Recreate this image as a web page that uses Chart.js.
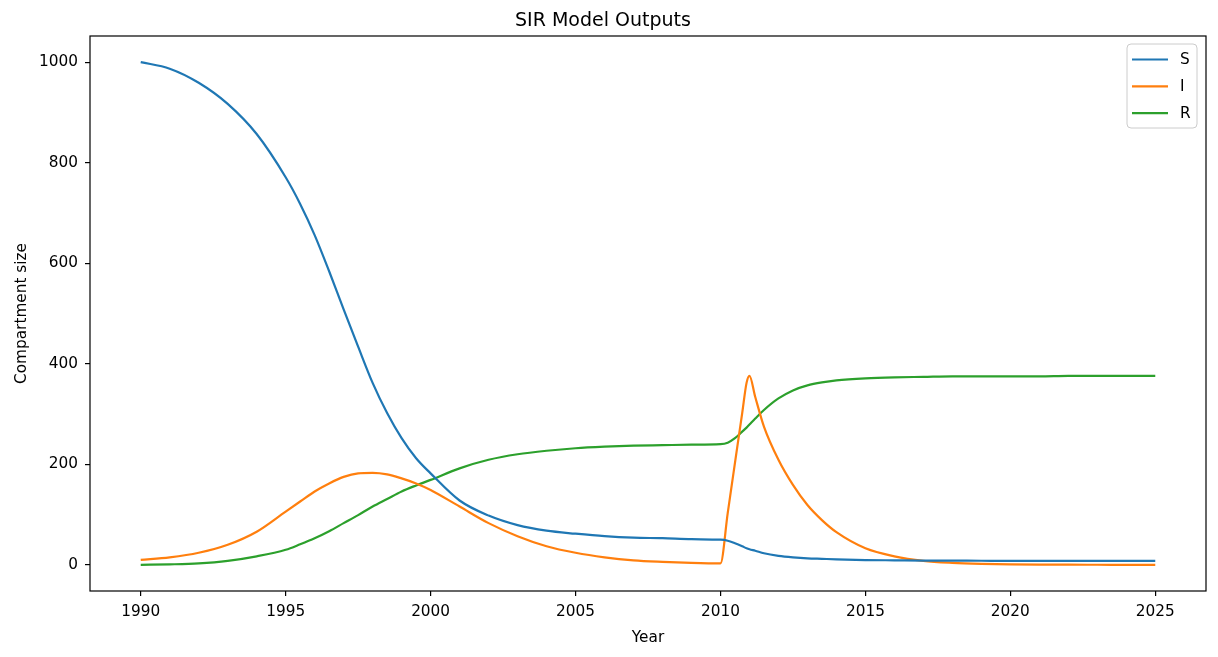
<!DOCTYPE html>
<html lang="en">
<head>
    <meta charset="UTF-8">
    <title>SIR Model Outputs</title>
    <script src="https://cdn.jsdelivr.net/npm/chart.js"></script>
    <style>
        body {
            margin: 0;
            background: #fff;
        }
        .chart-container {
            width: 1218px;
            height: 657px;
        }
    </style>
</head>
<body>
    <div class="chart-container">
        <canvas id="sirChart"></canvas>
    </div>

    <script>
        // time points (years)
        const years = [1990, 1991, 1992, 1993, 1994, 1995, 1995.5, 1996, 1996.5, 1997, 1997.5, 1998, 1998.5, 1999, 1999.5,
            2000, 2001, 2002, 2003, 2004, 2005, 2006, 2007, 2008, 2009, 2010,
            2010.25, 2010.5, 2010.75, 2010.9, 2011, 2011.2, 2011.5, 2012, 2012.5, 2013, 2013.5,
            2014, 2015, 2016, 2017, 2018, 2019, 2020, 2021, 2022, 2023, 2024, 2025];

        const susceptible = [1000, 987, 959, 917, 857, 771, 718, 656, 584, 508, 434, 362, 302, 252, 212,
            182, 128, 98, 79, 68, 62, 57, 54, 53, 51, 50,
            48, 43, 37, 33, 31, 28, 23, 18, 15, 13, 12,
            11, 9.5, 9, 8.5, 8.3, 8.2, 8, 8, 8, 8, 8, 8];

        const infected = [10, 15, 24, 40, 66, 106, 126, 146, 162, 175, 182, 183, 180, 172, 162,
            149, 116, 83, 57, 37, 24, 15, 9, 6, 4, 3,
            103, 203, 302, 362, 376, 334, 275, 209, 159, 119, 89,
            65, 33, 17, 8, 4, 2, 1, 0.5, 0.3, 0.2, 0.1, 0];

        const recovered = [0, 1, 3, 8, 17, 30, 41, 53, 67, 83, 99, 116, 131, 146, 158,
            169, 192, 209, 220, 227, 232, 235, 237, 238, 239, 240,
            243, 252, 265, 273, 279, 291, 308, 331, 347, 357, 363,
            367, 371, 373, 374, 375, 375, 375, 375, 376, 376, 376, 376];

        const xTicks = [1990, 1995, 2000, 2005, 2010, 2015, 2020, 2025];
        const yTicks = [0, 200, 400, 600, 800, 1000];

        const FONT = "'DejaVu Sans', sans-serif";
        const TICK_SIZE = 15.3;

        function toPoints(values) {
            return years.map((yr, i) => ({ x: yr, y: values[i] }));
        }

        // white background, spines on all four sides, legend box inside the plot
        const framePlugin = {
            id: 'frame',
            beforeDraw(chart) {
                const c = chart.ctx;
                c.save();
                c.fillStyle = '#fff';
                c.fillRect(0, 0, chart.width, chart.height);
                c.restore();
            },
            afterDraw(chart) {
                const c = chart.ctx;
                const a = chart.chartArea;
                c.save();
                c.strokeStyle = '#000';
                c.lineWidth = 1.2;
                c.strokeRect(a.left, a.top, a.right - a.left, a.bottom - a.top);

                // legend
                const bx = 1127, by = 44, bw = 70, bh = 84, r = 4;
                c.beginPath();
                c.moveTo(bx + r, by);
                c.arcTo(bx + bw, by, bx + bw, by + bh, r);
                c.arcTo(bx + bw, by + bh, bx, by + bh, r);
                c.arcTo(bx, by + bh, bx, by, r);
                c.arcTo(bx, by, bx + bw, by, r);
                c.closePath();
                c.fillStyle = 'rgba(255,255,255,0.8)';
                c.fill();
                c.strokeStyle = '#cccccc';
                c.lineWidth = 1;
                c.stroke();

                c.font = TICK_SIZE + 'px ' + FONT;
                c.textBaseline = 'middle';
                c.textAlign = 'left';
                chart.data.datasets.forEach((ds, i) => {
                    const ly = 59.5 + i * 26.8;
                    c.strokeStyle = ds.borderColor;
                    c.lineWidth = 2.2;
                    c.beginPath();
                    c.moveTo(1132, ly);
                    c.lineTo(1168, ly);
                    c.stroke();
                    c.fillStyle = '#000';
                    c.fillText(ds.label, 1180, ly + 1);
                });
                c.restore();
            }
        };

        const ctx = document.getElementById('sirChart').getContext('2d');

        const sirChart = new Chart(ctx, {
            type: 'line',
            data: {
                datasets: [
                    { label: 'S', data: toPoints(susceptible), borderColor: '#1f77b4' },
                    { label: 'I', data: toPoints(infected), borderColor: '#ff7f0e' },
                    { label: 'R', data: toPoints(recovered), borderColor: '#2ca02c' }
                ]
            },
            options: {
                responsive: true,
                maintainAspectRatio: false,
                animation: false,
                devicePixelRatio: 1,
                layout: { padding: { top: 0, right: 12, bottom: 0, left: 0 } },
                elements: {
                    point: { radius: 0 },
                    line: { borderWidth: 2.2, cubicInterpolationMode: 'monotone', fill: false }
                },
                plugins: {
                    legend: { display: false },
                    tooltip: { enabled: false },
                    title: {
                        display: true,
                        text: 'SIR Model Outputs',
                        color: '#000',
                        font: { family: FONT, size: 19, weight: 'normal', lineHeight: 1.2 },
                        padding: { top: 9.6, bottom: 3.6 }
                    }
                },
                scales: {
                    x: {
                        type: 'linear',
                        min: 1988.25,
                        max: 2026.75,
                        afterFit(scale) { scale.height = 66; },
                        afterBuildTicks(scale) { scale.ticks = xTicks.map(v => ({ value: v })); },
                        grid: { drawOnChartArea: false, drawTicks: true, tickLength: 5, color: '#000', lineWidth: 1.2 },
                        border: { display: false },
                        ticks: {
                            color: '#000',
                            padding: 7,
                            maxRotation: 0,
                            font: { family: FONT, size: TICK_SIZE },
                            callback: v => String(v)
                        },
                        title: {
                            display: true,
                            text: 'Year',
                            color: '#000',
                            font: { family: FONT, size: TICK_SIZE },
                            padding: { top: 0, bottom: 10 }
                        }
                    },
                    y: {
                        min: -52,
                        max: 1052,
                        afterFit(scale) { scale.width = 90; },
                        afterBuildTicks(scale) { scale.ticks = yTicks.map(v => ({ value: v })); },
                        grid: { drawOnChartArea: false, drawTicks: true, tickLength: 5, color: '#000', lineWidth: 1.2 },
                        border: { display: false },
                        ticks: {
                            color: '#000',
                            padding: 7,
                            font: { family: FONT, size: TICK_SIZE },
                            callback: v => String(v)
                        },
                        title: {
                            display: true,
                            text: 'Compartment size',
                            color: '#000',
                            font: { family: FONT, size: TICK_SIZE },
                            padding: { top: 13, bottom: 0 }
                        }
                    }
                }
            },
            plugins: [framePlugin]
        });
    </script>
</body>
</html>
